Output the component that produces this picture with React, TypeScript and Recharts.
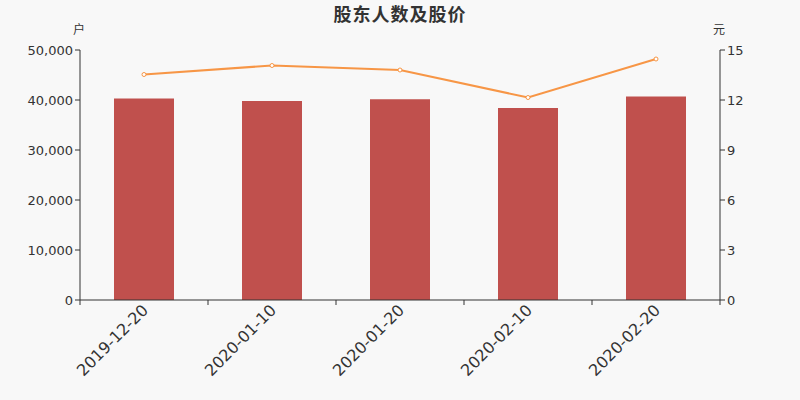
import { ComposedChart, Bar, Line, XAxis, YAxis } from "recharts";

const dates = ["2019-12-20", "2020-01-10", "2020-01-20", "2020-02-10", "2020-02-20"];
const holders = [40300, 39800, 40150, 38400, 40700];
const prices = [13.53, 14.07, 13.8, 12.15, 14.46];

const leftTicks = [0, 10000, 20000, 30000, 40000, 50000];
const rightTicks = [0, 3, 6, 9, 12, 15];

const data = dates.map((date, i) => ({ date, holders: holders[i], price: prices[i] }));

const FONT = "'DejaVu Sans', 'Noto Sans CJK SC', sans-serif";
const BAND = 128;

function DateTick(props: any) {
  const { x, y, payload, index } = props;
  const last = index === dates.length - 1;
  return (
    <g>
      <line x1={x - BAND / 2} y1={y - 8} x2={x - BAND / 2} y2={y - 3} stroke="#333" />
      {last && <line x1={x + BAND / 2} y1={y - 8} x2={x + BAND / 2} y2={y - 3} stroke="#333" />}
      <text
        x={x + 2}
        y={y}
        textAnchor="end"
        transform={`rotate(-45 ${x + 2} ${y})`}
        fontSize={16}
        fill="#333"
        fontFamily={FONT}
        dominantBaseline="middle"
      >
        {payload.value}
      </text>
    </g>
  );
}

export default function App() {
  return (
    <div style={{ position: "absolute", left: 0, top: 0, width: 800, height: 400, background: "#f8f8f8", fontFamily: FONT }}>
      <div style={{ position: "absolute", top: 0, width: 800, textAlign: "center", fontSize: 18, fontWeight: "bold", letterSpacing: 1, color: "#333", fontFamily: "'Noto Sans CJK SC', sans-serif" }}>
        股东人数及股价
      </div>
      <div style={{ position: "absolute", left: 73, top: 20, fontSize: 12, color: "#333", fontFamily: "'Noto Sans CJK SC', sans-serif" }}>户</div>
      <div style={{ position: "absolute", left: 713, top: 20, fontSize: 12, color: "#333", fontFamily: "'Noto Sans CJK SC', sans-serif" }}>元</div>
      <ComposedChart width={800} height={400} data={data} margin={{ top: 50, right: 0, left: 0, bottom: 0 }}>
        <XAxis
          dataKey="date"
          height={100}
          stroke="#333"
          tickLine={false}
          tick={<DateTick />}
          interval={0}
        />
        <YAxis
          yAxisId="left"
          width={80}
          domain={[0, 50000]}
          ticks={leftTicks}
          stroke="#333"
          tickSize={5}
          tick={{ fill: "#333", fontSize: 13, fontFamily: FONT }}
          tickFormatter={(v: number) => v.toLocaleString("en-US")}
        />
        <YAxis
          yAxisId="right"
          orientation="right"
          width={80}
          domain={[0, 15]}
          ticks={rightTicks}
          stroke="#333"
          tickSize={5}
          tick={{ fill: "#333", fontSize: 13, fontFamily: FONT }}
        />
        <Bar yAxisId="left" dataKey="holders" fill="#c0504d" barSize={60} isAnimationActive={false} />
        <Line
          yAxisId="right"
          dataKey="price"
          type="linear"
          stroke="#f79646"
          strokeWidth={2}
          dot={{ r: 2, fill: "#fff", stroke: "#f79646", strokeWidth: 1 }}
          isAnimationActive={false}
        />
      </ComposedChart>
    </div>
  );
}
